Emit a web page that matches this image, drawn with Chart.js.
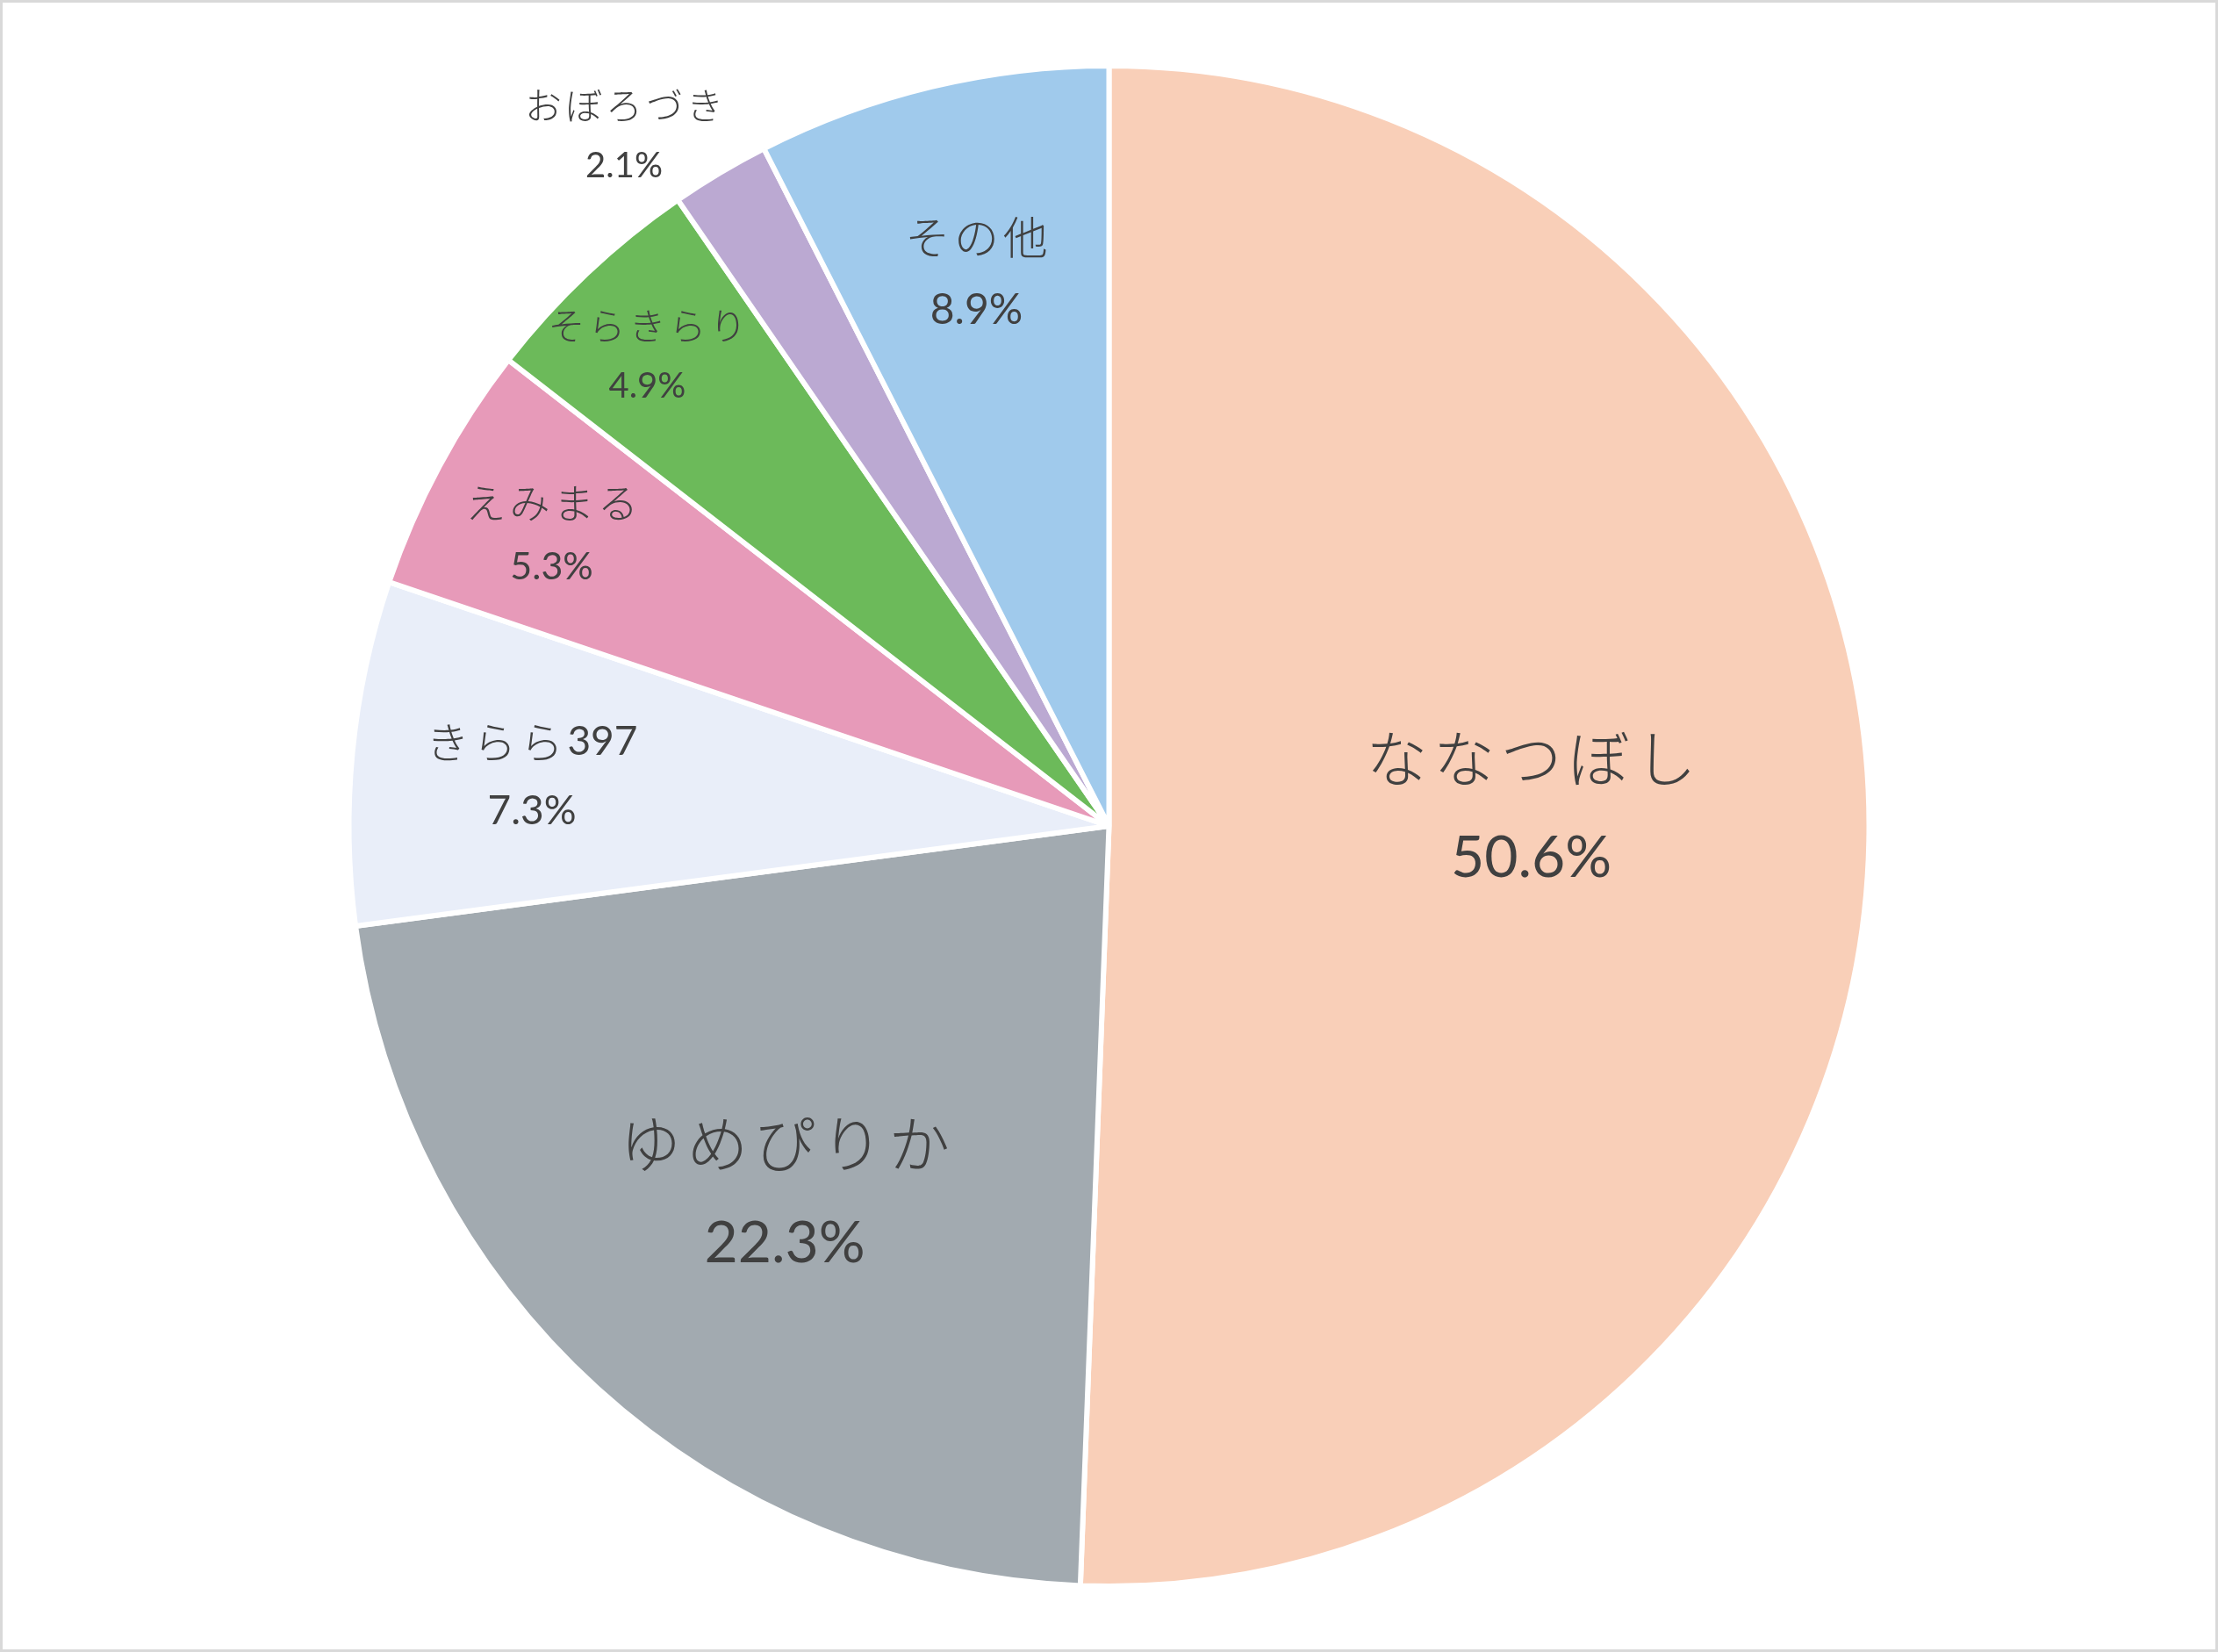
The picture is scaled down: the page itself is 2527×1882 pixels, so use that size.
<!DOCTYPE html>
<html>
<head>
<meta charset="utf-8">
<script src="https://cdn.jsdelivr.net/npm/chart.js@4.4.1/dist/chart.umd.min.js"></script>
<style>
  html, body { margin: 0; padding: 0; background: #ffffff; }
  #wrap { width: 2527px; height: 1882px; box-sizing: border-box; border: 3px solid #d9d9d9; background: #fff; }
  canvas { display: block; }
</style>
</head>
<body>
<div id="wrap"><canvas id="c" width="2521" height="1876"></canvas></div>
<script>
// ---- data ----
const categories = ['ななつぼし', 'ゆめぴりか', 'きらら397', 'えみまる', 'そらきらり', 'おぼろづき', 'その他'];
// slice sizes
const sliceValues = [50.6, 22.3, 7.3, 5.3, 4.9, 2.1, 7.5];
// percentages printed in the labels
const labelPercents = [50.6, 22.3, 7.3, 5.3, 4.9, 2.1, 8.9];
const sliceColors = ['#F9CFB8', '#A2AAB0', '#E9EEF9', '#E79AB9', '#6CBA5A', '#BBA9D2', '#A0CAEC'];

// ---- label styling (radial fraction, angle shift in degrees, font size) ----
const labelRadius = [0.556, 0.645, 0.762, 0.827, 0.867, 1.11, 0.747];
const labelAngleShift = [-3.5, -0.9, -0.7, -0.7, -1.1, -4.3, 0];
const labelFontSize = [66, 66, 46, 43, 40, 40, 48];

function drawMixed(ctx, text, cx, cy, fs) {
  const jpFont = `300 ${Math.round(fs * 1.06)}px "Noto Sans CJK JP", sans-serif`;
  const numFont = `400 ${fs}px Lato, "Noto Sans CJK JP", sans-serif`;
  const spacing = fs * 0.1;
  const chars = Array.from(text);
  const parts = chars.map((ch, k) => {
    const isNum = /[0-9.%]/.test(ch);
    ctx.font = isNum ? numFont : jpFont;
    const w = ctx.measureText(ch).width;
    const nextNum = k + 1 < chars.length && /[0-9.%]/.test(chars[k + 1]);
    const sp = (k === chars.length - 1 || (isNum && nextNum)) ? 0 : spacing;
    return { ch, font: isNum ? numFont : jpFont, w, sp };
  });
  const total = parts.reduce((s, p) => s + p.w + p.sp, 0);
  let x = cx - total / 2;
  ctx.textAlign = 'left';
  parts.forEach(p => {
    ctx.font = p.font;
    ctx.fillText(p.ch, x, cy);
    x += p.w + p.sp;
  });
}

const labelPlugin = {
  id: 'sliceLabels',
  afterDatasetsDraw(chart) {
    const ctx = chart.ctx;
    const meta = chart.getDatasetMeta(0);
    meta.data.forEach((arc, i) => {
      const p = arc.getProps(['x', 'y', 'startAngle', 'endAngle', 'outerRadius'], true);
      const mid = (p.startAngle + p.endAngle) / 2 + labelAngleShift[i] * Math.PI / 180;
      const r = p.outerRadius * labelRadius[i];
      const cx = p.x + Math.cos(mid) * r;
      const cy = p.y + Math.sin(mid) * r;
      const fs = labelFontSize[i];
      const gap = fs * 1.72;
      ctx.save();
      ctx.fillStyle = '#404040';
      ctx.textBaseline = 'middle';
      drawMixed(ctx, categories[i], cx, cy - gap / 2, fs);
      ctx.textAlign = 'center';
      ctx.font = `400 ${fs}px Lato, "Noto Sans CJK JP", sans-serif`;
      ctx.fillText(labelPercents[i].toFixed(1) + '%', cx, cy + gap / 2);
      ctx.restore();
    });
  }
};

new Chart(document.getElementById('c'), {
  type: 'pie',
  data: {
    labels: categories,
    datasets: [{
      data: sliceValues,
      backgroundColor: sliceColors,
      borderColor: '#ffffff',
      borderWidth: 6
    }]
  },
  options: {
    responsive: false,
    devicePixelRatio: 1,
    animation: false,
    radius: 866,
    layout: { padding: 0 },
    plugins: {
      legend: { display: false },
      tooltip: { enabled: false }
    }
  },
  plugins: [labelPlugin]
});
</script>
</body>
</html>
